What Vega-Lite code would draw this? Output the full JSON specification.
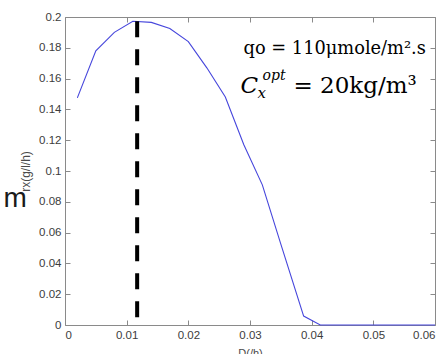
{
  "$schema": "https://vega.github.io/schema/vega-lite/v6.json",
  "width": 370,
  "height": 308,
  "autosize": "none",
  "padding": {"left": 65, "top": 17, "right": 11, "bottom": 29},
  "background": "white",
  "config": {
    "view": {"stroke": null},
    "axis": {
      "labelFont": "Liberation Sans",
      "titleFont": "Liberation Sans",
      "labelFontSize": 11.5,
      "labelColor": "#3c3c3c",
      "titleColor": "#4a4a4a",
      "titleFontWeight": "normal",
      "domainColor": "#8a8a8a",
      "tickColor": "#8a8a8a",
      "grid": false,
      "tickSize": -5
    }
  },
  "resolve": {"axis": {"x": "independent", "y": "independent"}},
  "layer": [
    {
      "data": {"values": [
        {"D": 0.002, "m": 0.1475},
        {"D": 0.005, "m": 0.178},
        {"D": 0.008, "m": 0.190},
        {"D": 0.011, "m": 0.1972},
        {"D": 0.014, "m": 0.1965},
        {"D": 0.017, "m": 0.1925},
        {"D": 0.020, "m": 0.184},
        {"D": 0.023, "m": 0.167},
        {"D": 0.026, "m": 0.148},
        {"D": 0.029, "m": 0.117},
        {"D": 0.032, "m": 0.091},
        {"D": 0.035, "m": 0.0525},
        {"D": 0.0387, "m": 0.0058},
        {"D": 0.0414, "m": 0},
        {"D": 0.045, "m": 0},
        {"D": 0.050, "m": 0},
        {"D": 0.055, "m": 0},
        {"D": 0.060, "m": 0}
      ]},
      "mark": {"type": "line", "color": "#4646dc", "strokeWidth": 1.1},
      "encoding": {
        "x": {"field": "D", "type": "quantitative",
              "scale": {"domain": [0, 0.06], "nice": false, "zero": false},
              "axis": {"orient": "bottom", "title": "D(/h)", "format": "~g",
                       "values": [0, 0.01, 0.02, 0.03, 0.04, 0.05, 0.06],
                       "labelPadding": 9, "titleFontSize": 11, "titlePadding": 7}},
        "y": {"field": "m", "type": "quantitative",
              "scale": {"domain": [0, 0.2], "nice": false},
              "axis": {"orient": "left", "title": "rx(g/l/h)", "format": "~g",
                       "values": [0, 0.02, 0.04, 0.06, 0.08, 0.1, 0.12, 0.14, 0.16, 0.18, 0.2],
                       "labelPadding": 9, "titleFontSize": 12, "titlePadding": 6}}
      }
    },
    {
      "data": {"values": [{"D": 0.0117, "lo": 0.0043, "hi": 0.1972}]},
      "mark": {"type": "rule", "color": "black", "strokeWidth": 4, "strokeDash": [16, 12]},
      "encoding": {
        "x": {"field": "D", "type": "quantitative",
              "axis": {"orient": "top", "title": null, "labels": false,
                       "values": [0, 0.01, 0.02, 0.03, 0.04, 0.05, 0.06]}},
        "y": {"field": "hi", "type": "quantitative",
              "axis": {"orient": "right", "title": null, "labels": false,
                       "values": [0, 0.02, 0.04, 0.06, 0.08, 0.1, 0.12, 0.14, 0.16, 0.18, 0.2]}},
        "y2": {"field": "lo"}
      }
    },
    {
      "data": {"values": [{"D": 0.02895, "m": 0.1762, "t": "qo = 110μmole/m².s"}]},
      "mark": {"type": "text", "align": "left", "baseline": "alphabetic", "font": "DejaVu Serif", "fontSize": 17.8, "color": "black"},
      "encoding": {
        "x": {"field": "D", "type": "quantitative", "axis": null},
        "y": {"field": "m", "type": "quantitative", "axis": null},
        "text": {"field": "t"}
      }
    },
    {
      "data": {"values": [{"D": 0.03705, "m": 0.1509, "t": "= 20kg/m³"}]},
      "mark": {"type": "text", "align": "left", "baseline": "alphabetic", "font": "DejaVu Serif", "fontSize": 23, "color": "black"},
      "encoding": {
        "x": {"field": "D", "type": "quantitative", "axis": null},
        "y": {"field": "m", "type": "quantitative", "axis": null},
        "text": {"field": "t"}
      }
    },
    {
      "data": {"values": [{"D": 0.02846, "m": 0.1509, "t": "C"}]},
      "mark": {"type": "text", "align": "left", "baseline": "alphabetic", "font": "DejaVu Serif", "fontStyle": "italic", "fontSize": 23, "color": "black"},
      "encoding": {
        "x": {"field": "D", "type": "quantitative", "axis": null},
        "y": {"field": "m", "type": "quantitative", "axis": null},
        "text": {"field": "t"}
      }
    },
    {
      "data": {"values": [{"D": 0.03122, "m": 0.1477, "t": "x"}]},
      "mark": {"type": "text", "align": "left", "baseline": "alphabetic", "font": "DejaVu Serif", "fontStyle": "italic", "fontSize": 15, "color": "black"},
      "encoding": {
        "x": {"field": "D", "type": "quantitative", "axis": null},
        "y": {"field": "m", "type": "quantitative", "axis": null},
        "text": {"field": "t"}
      }
    },
    {
      "data": {"values": [{"D": 0.03203, "m": 0.1593, "t": "opt"}]},
      "mark": {"type": "text", "align": "left", "baseline": "alphabetic", "font": "DejaVu Serif", "fontStyle": "italic", "fontSize": 14, "color": "black"},
      "encoding": {
        "x": {"field": "D", "type": "quantitative", "axis": null},
        "y": {"field": "m", "type": "quantitative", "axis": null},
        "text": {"field": "t"}
      }
    },
    {
      "data": {"values": [{"D": -0.00997, "m": 0.0763, "t": "m"}]},
      "mark": {"type": "text", "align": "left", "baseline": "alphabetic", "font": "Liberation Sans", "fontSize": 28, "color": "#1a1a1a"},
      "encoding": {
        "x": {"field": "D", "type": "quantitative", "axis": null},
        "y": {"field": "m", "type": "quantitative", "axis": null},
        "text": {"field": "t"}
      }
    }
  ]
}
